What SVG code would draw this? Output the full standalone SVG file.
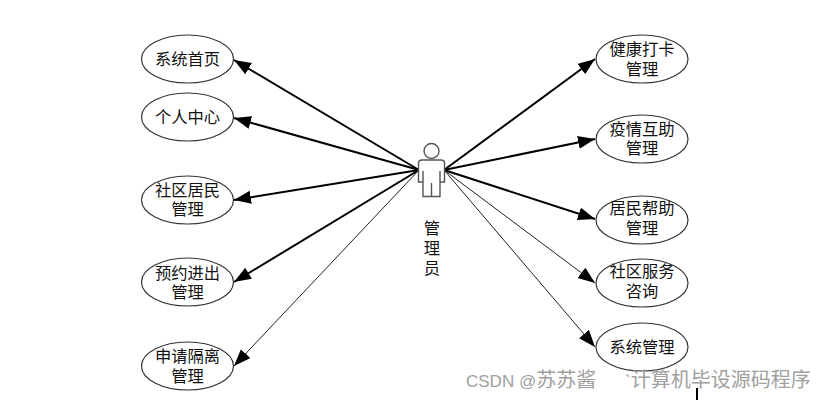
<svg xmlns="http://www.w3.org/2000/svg" width="825" height="400" viewBox="0 0 825 400">
<style>
.n ellipse{fill:#fff;stroke:#333;stroke-width:1.2}
text{font-family:"Noto Sans CJK SC","Liberation Sans",sans-serif;font-size:16.3px;fill:#111;text-anchor:middle;font-weight:400}
.c line{stroke:#000;stroke-width:2;marker-end:url(#a)}
.c line.t{stroke:#222;stroke-width:1;marker-end:url(#a)}
.act{fill:#fff;stroke:#555;stroke-width:1.4}
text.wm{font-size:20px;fill:#a0a0a0;text-anchor:start}
.wm .l{font-family:"Liberation Sans",sans-serif;font-size:17px}
</style>
<defs>
<marker id="a" markerUnits="userSpaceOnUse" markerWidth="18" markerHeight="14" refX="17" refY="6.5" orient="auto"><path d="M0 0L17 6.5L0 13z" fill="#000"/></marker>
</defs>
<rect width="825" height="400" fill="#fff"/>
<g id="connectors" class="c">
<line x1="419" y1="170" x2="234" y2="60"/>
<line x1="419" y1="170" x2="234" y2="118"/>
<line x1="419" y1="170" x2="234" y2="200"/>
<line x1="419" y1="170" x2="234" y2="282"/>
<line class="t" x1="419" y1="170" x2="234" y2="366"/>
<line x1="444" y1="170" x2="595" y2="59"/>
<line x1="444" y1="170" x2="595" y2="139"/>
<line x1="444" y1="170" x2="595" y2="219"/>
<line class="t" x1="444" y1="170" x2="595" y2="283"/>
<line class="t" x1="444" y1="170" x2="595" y2="347"/>
</g>
<g id="actor">
<circle class="act" cx="431.5" cy="151" r="7.5"/>
<path class="act" d="M422 160H441Q444.5 160 444.5 163V182H440V196.500H423V182H418.500V163Q418.500 160 422 160ZM423 171V196.500M440 171V196.500M431.500 183V196.500"/>
<text x="432" y="234"><tspan x="432">管</tspan><tspan x="432" dy="20">理</tspan><tspan x="432" dy="20">员</tspan></text>
</g>
<g id="n1" class="n"><ellipse cx="187.5" cy="59" rx="46" ry="24"/><text x="187.5" y="65">系统首页</text></g>
<g id="n2" class="n"><ellipse cx="187.5" cy="117" rx="46" ry="24"/><text x="187.5" y="123">个人中心</text></g>
<g id="n3" class="n"><ellipse cx="187.5" cy="200" rx="46" ry="24"/><text y="196"><tspan x="187.5">社区居民</tspan><tspan x="187.5" dy="19">管理</tspan></text></g>
<g id="n4" class="n"><ellipse cx="187.5" cy="282" rx="46" ry="24"/><text y="279"><tspan x="187.5">预约进出</tspan><tspan x="187.5" dy="19">管理</tspan></text></g>
<g id="n5" class="n"><ellipse cx="187.5" cy="366" rx="46" ry="24"/><text y="362"><tspan x="187.5">申请隔离</tspan><tspan x="187.5" dy="20">管理</tspan></text></g>
<g id="n6" class="n"><ellipse cx="642" cy="59" rx="46" ry="24"/><text y="55"><tspan x="642">健康打卡</tspan><tspan x="642" dy="20">管理</tspan></text></g>
<g id="n7" class="n"><ellipse cx="642" cy="139" rx="46" ry="24"/><text y="135"><tspan x="642">疫情互助</tspan><tspan x="642" dy="19">管理</tspan></text></g>
<g id="n8" class="n"><ellipse cx="642" cy="220" rx="46" ry="24"/><text y="214"><tspan x="642">居民帮助</tspan><tspan x="642" dy="20">管理</tspan></text></g>
<g id="n9" class="n"><ellipse cx="642" cy="283" rx="46" ry="24"/><text y="277"><tspan x="642">社区服务</tspan><tspan x="642" dy="20">咨询</tspan></text></g>
<g id="n10" class="n"><ellipse cx="642" cy="347" rx="46" ry="24"/><text x="642" y="353">系统管理</text></g>
<text class="wm" x="466" y="387"><tspan class="l">CSDN @</tspan>苏苏酱</text>
<text class="wm" x="625" y="387"><tspan class="l">`</tspan>计算机毕设源码程序</text>
<line x1="697" y1="388" x2="697" y2="400" stroke="#000" stroke-width="2"/>
</svg>
